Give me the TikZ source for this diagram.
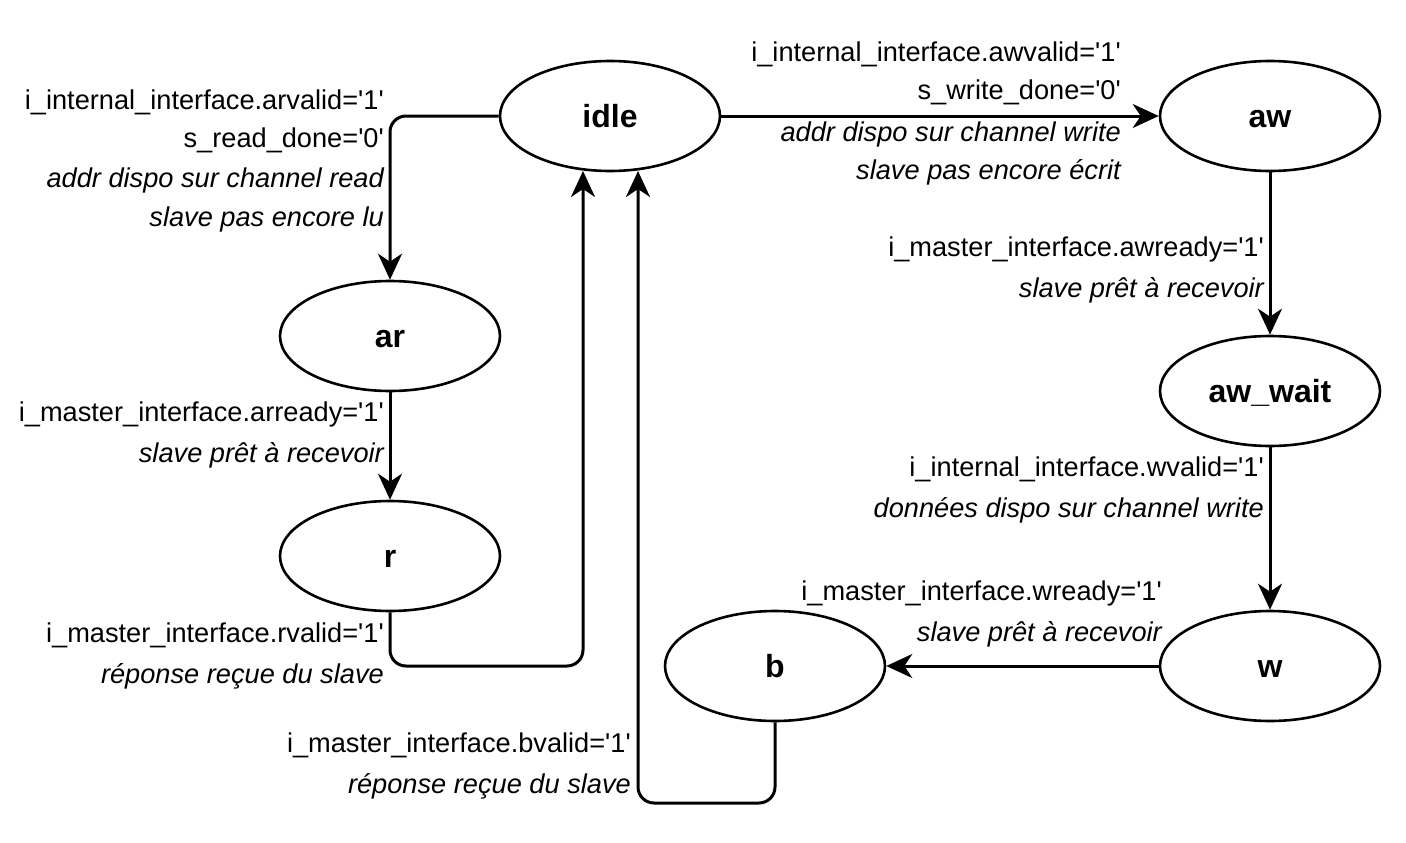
\documentclass[tikz,border=0pt]{standalone}
\usepackage{fontspec}
\setmainfont{Liberation Sans}
\usetikzlibrary{arrows.meta,shapes.geometric}
\newcommand\sq{\textquotesingle}
\begin{document}
\begin{tikzpicture}[x=1pt,y=-1pt,
  state/.style={draw,line width=2.6pt,ellipse,minimum width=220pt,minimum height=110pt,inner sep=0pt,text height=23pt,text depth=0pt,font=\fontsize{32}{38}\selectfont\bfseries},
  conn/.style={draw,line width=3pt,rounded corners=16pt,-{Stealth[length=26pt,width=24pt,inset=8pt]}},
  lbl/.style={anchor=east,inner sep=0pt,font=\fontsize{27.2}{32}\selectfont},
  ilbl/.style={lbl,font=\fontsize{27.2}{32}\selectfont\itshape}]
\useasboundingbox (0,0) rectangle (1406,843);
\node[state] (idle) at (610,116) {idle};
\node[state] (aw) at (1270,116) {aw};
\node[state] (ar) at (390,336) {ar};
\node[state] (r) at (390,556) {r};
\node[state] (awwait) at (1270,391) {aw\_wait};
\node[state] (w) at (1270,666) {w};
\node[state] (b) at (775,666) {b};
\coordinate (c1) at (390,116);
\coordinate (c2) at (390,666);
\coordinate (c3) at (583,666);
\coordinate (c4) at (775,803);
\coordinate (c5) at (638,803);
\coordinate (e1) at (583,171);
\coordinate (e2) at (638,171);
\path[conn] (idle.west) -- (c1) -- (ar.north);
\path[conn] (ar.south) -- (r.north);
\path[conn] (r.south) -- (c2) -- (c3) -- (e1);
\path[conn] (b.south) -- (c4) -- (c5) -- (e2);
\path[conn] (idle.east) -- (aw.west);
\path[conn] (aw.south) -- (awwait.north);
\path[conn] (awwait.south) -- (w.north);
\path[conn] (w.west) -- (b.east);
% labels
\node[lbl] (l1a) at (384,102) {i\_internal\_interface.arvalid=\sq1\sq};
\node[lbl] (l1b) at (384,140) {s\_read\_done=\sq0\sq};
\node[ilbl] (l1c) at (384,180) {addr dispo sur channel read};
\node[ilbl] (l1d) at (384,219) {slave pas encore lu};
\node[lbl] (l2a) at (384,414) {i\_master\_interface.arready=\sq1\sq};
\node[ilbl] (l2b) at (384,455) {slave prêt à recevoir};
\node[lbl] (l3a) at (384,635) {i\_master\_interface.rvalid=\sq1\sq};
\node[ilbl] (l3b) at (384,676) {réponse reçue du slave};
\node[lbl] (l4a) at (1121,54) {i\_internal\_interface.awvalid=\sq1\sq};
\node[lbl] (l4b) at (1121,92) {s\_write\_done=\sq0\sq};
\node[ilbl] (l4c) at (1121,134) {addr dispo sur channel write};
\node[ilbl] (l4d) at (1121,172) {slave pas encore écrit};
\node[lbl] (l5a) at (1264,249) {i\_master\_interface.awready=\sq1\sq};
\node[ilbl] (l5b) at (1264,290) {slave prêt à recevoir};
\node[lbl] (l6a) at (1264,469) {i\_internal\_interface.wvalid=\sq1\sq};
\node[ilbl] (l6b) at (1264,510) {données dispo sur channel write};
\node[lbl] (l7a) at (1162,593) {i\_master\_interface.wready=\sq1\sq};
\node[ilbl] (l7b) at (1162,634) {slave prêt à recevoir};
\node[lbl] (l8a) at (631,745) {i\_master\_interface.bvalid=\sq1\sq};
\node[ilbl] (l8b) at (631,786) {réponse reçue du slave};
\end{tikzpicture}
\end{document}
